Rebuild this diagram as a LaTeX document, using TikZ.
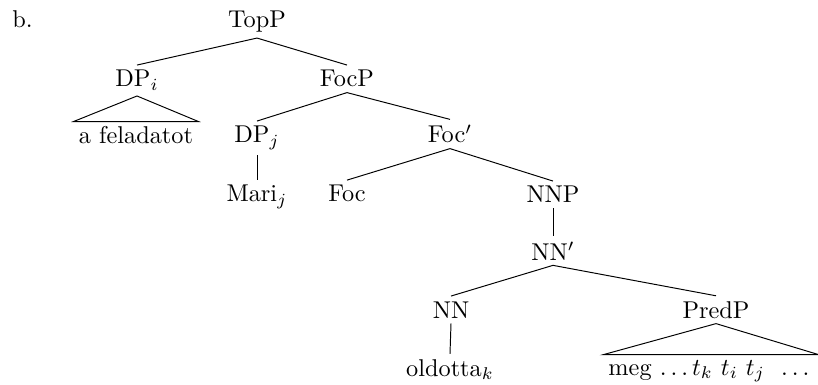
\documentclass[tikz,border=0pt]{standalone}
% classic spaced ellipsis (three dots, each followed by an interword kern)
\newcommand\spdots{.\kern\fontdimen3\font.\kern\fontdimen3\font.\kern\fontdimen3\font}
\begin{document}
\begin{tikzpicture}[x=0.41152pt, y=-0.41152pt,
  cat/.style={inner sep=2pt, anchor=base},
  branch/.style={line width=0.4pt},
  roof/.style={line width=0.4pt, line join=miter}]
\useasboundingbox (0,0) rectangle (818,385);

% example label
\node[inner sep=0pt, anchor=base west] (lbl) at (12,28) {b.};

% categories
\node[cat] (TopP)  at (257,28)  {TopP};
\node[cat] (DPi)   at (137,87)  {DP$_i$};
\node[cat] (FocP)  at (347,87)  {FocP};
\node[cat] (leafA) at (136,144) {a feladatot};
\node[cat] (DPj)   at (257,143) {DP$_j$};
\node[cat] (Focb)  at (450,143) {Foc$'$};
\node[cat] (Mari)  at (257,202) {Mari$_j$};
\node[cat] (Foc)   at (347,202) {Foc};
\node[cat] (NNP)   at (553,203) {NNP};
\node[cat] (NNb)   at (553,260) {NN$'$};
\node[cat] (NN)    at (451,318) {NN};
\node[cat] (PredP) at (716,318) {PredP};
\node[cat] (old)   at (450,376) {oldotta$_k$};
\node[cat] (leafB) at (711,375) {meg \spdots$t_k$ $t_i$ $t_j$\ \ \spdots};

% branches
\draw[branch] (TopP.south) -- (DPi.north);
\draw[branch] (TopP.south) -- (FocP.north);
\draw[branch] (FocP.south) -- (DPj.north);
\draw[branch] (FocP.south) -- (Focb.north);
\draw[branch] (DPj.south) -- (Mari.north);
\draw[branch] (Focb.south) -- (Foc.north);
\draw[branch] (Focb.south) -- (NNP.north);
\draw[branch] (NNP.south) -- (NNb.north);
\draw[branch] (NNb.south) -- (NN.north);
\draw[branch] (NNb.south) -- (PredP.north);
\draw[branch] (NN.south) -- (old.north);

% roofs over unanalysed constituents
\draw[roof] (DPi.south) -- (leafA.north west) -- (leafA.north east) -- cycle;
\draw[roof] (PredP.south) -- (leafB.north west) -- (leafB.north east) -- cycle;
\end{tikzpicture}
\end{document}
